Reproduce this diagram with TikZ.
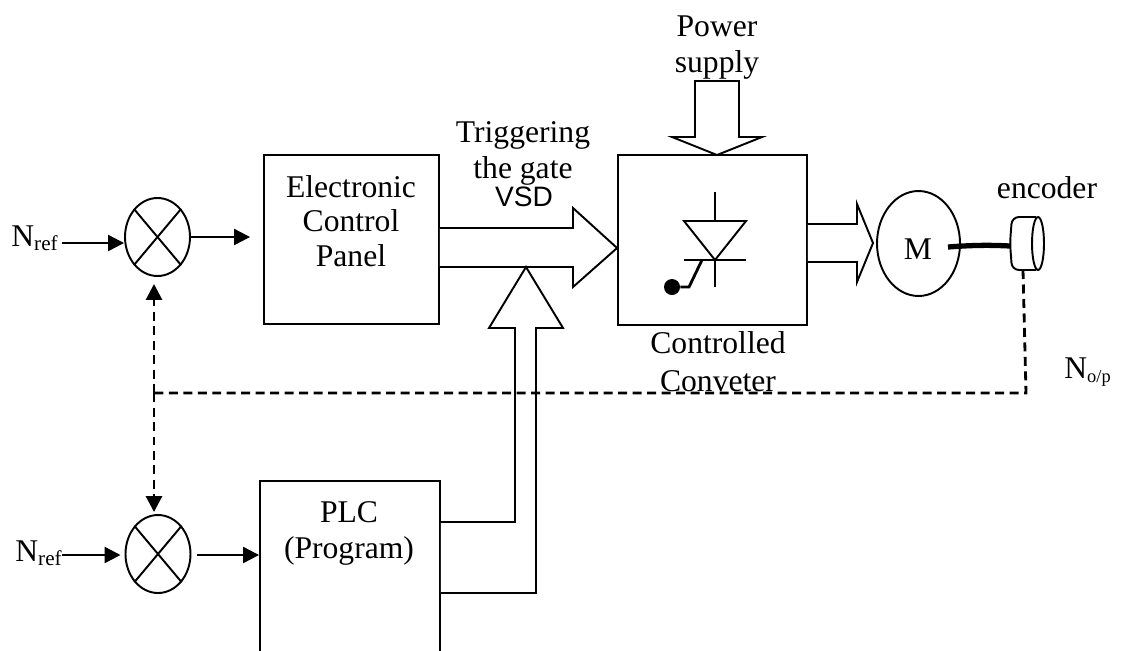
\documentclass[tikz,border=0pt]{standalone}
\usepackage{fontspec}
\setmainfont{Liberation Serif}
\newfontfamily\vsdfont{Liberation Sans}
\usetikzlibrary{positioning,shapes.geometric,arrows.meta}
\newcommand{\Nsub}[1]{N\raisebox{-2.5pt}{\fontsize{12}{12}\selectfont #1}}
\tikzset{
  txt/.style={inner sep=0pt, align=center, font=\fontsize{18}{19.5}\selectfont},
  wide/.style={align=center, font=\fontsize{18}{20.5}\selectfont},
  blockbox/.style={draw, line width=1.1pt, inner sep=0pt},
  sumjoin/.style={draw, ellipse, line width=1.1pt, inner sep=0pt, minimum width=1.3cm, minimum height=1.56cm},
  sig/.style={line width=1.3pt, -{Triangle[length=0.32cm,width=0.32cm]}},
  fb/.style={line width=1.6pt, dash pattern=on 0.18cm off 0.11cm},
  fbtip/.style={fb, -{Triangle[length=0.32cm,width=0.32cm]}},
  fat/.style={line width=1.1pt, line join=miter, fill=white}
}
\begin{document}
\begin{tikzpicture}[x=0.02cm, y=-0.02cm]
    \clip (0,0) rectangle (1122,650);
    \fill[white] (0,0) rectangle (1122,650);

    \node[blockbox, minimum width=3.5cm, minimum height=3.38cm] at (351.5,239.5) (ecp) {};
    \node[blockbox, minimum width=3.78cm, minimum height=3.4cm] at (712.5,240) (conv) {};
    \node[blockbox, minimum width=3.6cm, minimum height=4.4cm] at (350,591) (plc) {};
    \node[sumjoin] at (157.5,237) (suma) {};
    \node[sumjoin] at (158,554) (sumb) {};
    \node[draw, ellipse, line width=1.1pt, inner sep=0pt, minimum width=1.66cm, minimum height=2.1cm] at (918.5,243.5) (motor) {};

    \node[txt] at (351,221) (ecptext) {Electronic\\Control\\Panel};
    \node[txt, wide] at (349,533) (plctext) {PLC\\(Program)};
    \node[txt, wide] at (717,47.5) (powertext) {Power\\supply};
    \node[txt, wide] at (523,153.5) (trigtext) {Triggering\\the gate};
    \node[inner sep=0pt, font=\vsdfont\fontsize{16}{16}\selectfont] at (524,197) (vsdtext) {VSD};
    \node[txt, font=\fontsize{18}{21.5}\selectfont] at (718,362) (convtext) {Controlled\\Conveter};
    \node[txt] at (1047,188) (enctext) {encoder};
    \node[txt] at (918,249) (mtext) {M};
    \node[txt, anchor=east] at (58,238) (nrefa) {\Nsub{ref}};
    \node[txt, anchor=east] at (62,553) (nrefb) {\Nsub{ref}};
    \node[txt, anchor=west] at (1064,372) (nop) {N\raisebox{-2pt}{\fontsize{10.5}{10.5}\selectfont o/p}};

    \coordinate (ina) at (62,243);
    \coordinate (inb) at (62,555);

    \foreach \j in {suma,sumb} {
        \draw[line width=1.1pt] (\j.50) -- (\j.230);
        \draw[line width=1.1pt] (\j.130) -- (\j.310);
    }

    \draw[sig] (ina) -- (suma.west |- ina);
    \draw[sig, shorten >=0.26cm] (suma.east) -- (suma.east -| ecp.west);
    \draw[sig, shorten >=0.08cm] (inb) -- (sumb.west |- inb);
    \draw[sig, shorten <=0.12cm] (sumb.east |- inb) -- (plc.west |- inb);

    % fat arrows
    \draw[fat] (ecp.east |- 0,228) -- (573,228) -- (573,208) -- (conv.west |- 0,248) -- (573,287) -- (573,267) -- (ecp.east |- 0,267);
    \draw[fat] (plc.east |- 0,522) -- (515,522) -- (515,328) -- (489,328) -- (526,267) -- (563,328) -- (536,328) -- (536,593) -- (plc.east |- 0,593);
    \draw[fat] (695,137) -- (695,81) -- (739,81) -- (739,137) -- (762,137) -- (717,155) -- (672,137) -- cycle;
    \draw[fat] (conv.east |- 0,224) -- (857,224) -- (857,204) -- (873,243) -- (857,282) -- (857,262) -- (conv.east |- 0,262);

    % thyristor
    \coordinate (thy) at (715,260);
    \node[circle, fill, inner sep=0pt, minimum size=0.32cm] at (672,287) (gatedot) {};
    \draw[line width=1.1pt] (715,192) -- (715,221);
    \draw[line width=1.1pt] (684,221) -- (746,221) -- (thy) -- cycle;
    \draw[line width=1.1pt] (684,260) -- (746,260);
    \draw[line width=1.1pt] (thy) -- (715,287);
    \draw[line width=1.6pt] (gatedot) -- (689,287) -- (702,260);

    % encoder
    \coordinate (enctop) at (1036,217);
    \coordinate (encbot) at (1036,270);
    \draw[line width=1.1pt, rounded corners=4pt] (enctop) -- (1012,217) -- (1010,243) -- (1012,270) -- (encbot);
    \node[draw, ellipse, line width=1.1pt, inner sep=0pt, minimum width=0.24cm, minimum height=1.06cm] at (1038,243.5) (encface) {};
    \draw[line width=3pt] (948,247) .. controls (975,245) and (990,245) .. (1010,246);

    % feedback
    \coordinate (fbr) at (1026,393);
    \coordinate (fbl) at (154,393);
    \draw[fb] (1023,270) -- (fbr) -- (fbl);
    \draw[fbtip, shorten >=0.14cm] (fbl) -- (fbl |- suma.south);
    \draw[fbtip, shorten >=0.04cm] (fbl) -- (fbl |- sumb.north);
\end{tikzpicture}
\end{document}
